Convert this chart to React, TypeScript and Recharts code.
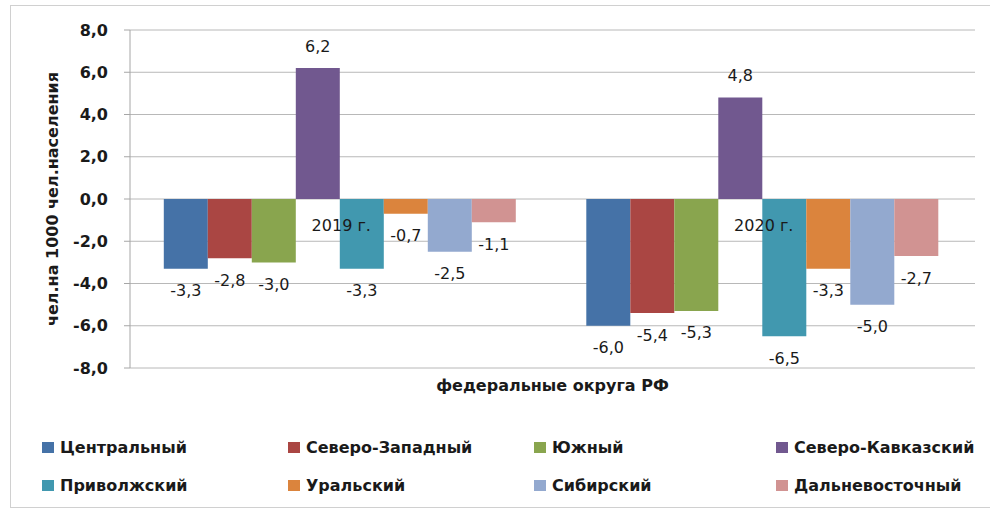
import {
  BarChart,
  Bar,
  XAxis,
  YAxis,
  CartesianGrid,
  Legend,
  LabelList,
  ReferenceDot,
  Label,
} from 'recharts';

const years = ['2019 г.', '2020 г.'];
const districts = [
  'Центральный',
  'Северо-Западный',
  'Южный',
  'Северо-Кавказский',
  'Приволжский',
  'Уральский',
  'Сибирский',
  'Дальневосточный',
];
const colors = ['#4572A7', '#AA4643', '#89A54E', '#71588F', '#4198AF', '#DB843D', '#93A9CF', '#D19392'];
const values2019 = [-3.3, -2.8, -3.0, 6.2, -3.3, -0.7, -2.5, -1.1];
const values2020 = [-6.0, -5.4, -5.3, 4.8, -6.5, -3.3, -5.0, -2.7];
const yTicks = [-8, -6, -4, -2, 0, 2, 4, 6, 8];

const rows = [values2019, values2020].map((vals, i) => {
  const row: Record<string, string | number> = { year: years[i] };
  vals.forEach((v, j) => {
    row['d' + j] = v;
  });
  return row;
});

const FONT = '"DejaVu Sans", sans-serif';
const TEXT = '#1a1a1a';
const fmt = (v: number) => v.toFixed(1).replace('.', ',');

function ValueLabel(props: any) {
  const { x, y, width, height, value } = props;
  const top = Math.min(y, y + height);
  const bottom = Math.max(y, y + height);
  const cy = value >= 0 ? top - 22 : bottom + 22;
  return (
    <text
      x={x + width / 2}
      y={cy}
      textAnchor="middle"
      dominantBaseline="central"
      fontFamily={FONT}
      fontSize={16}
      fill={TEXT}
    >
      {fmt(Number(value))}
    </text>
  );
}

function YTitle(props: any) {
  const { viewBox } = props;
  const cx = viewBox.x + 52;
  const cy = viewBox.y + viewBox.height / 2;
  return (
    <text
      x={cx}
      y={cy}
      transform={`rotate(-90, ${cx}, ${cy})`}
      textAnchor="middle"
      dominantBaseline="central"
      fontFamily={FONT}
      fontSize={16}
      fontWeight="bold"
      fill={TEXT}
    >
      чел.на 1000 чел.населения
    </text>
  );
}

const legendCols = [42, 288, 534, 776];

// legend keeps the series order (recharts sorts its payload by name)
function LegendBox() {
  return (
    <div style={{ position: 'relative', width: 990, height: 70 }}>
      {districts.map((d, i) => (
        <div
          key={d}
          style={{
            position: 'absolute',
            left: legendCols[i % 4],
            top: Math.floor(i / 4) * 38,
            height: 20,
            display: 'flex',
            alignItems: 'center',
            fontFamily: FONT,
            fontSize: 16,
            fontWeight: 'bold',
            color: TEXT,
            whiteSpace: 'nowrap',
          }}
        >
          <span style={{ display: 'inline-block', width: 12, height: 11, background: colors[i], marginRight: 6 }} />
          {d}
        </div>
      ))}
    </div>
  );
}

export default function App() {
  return (
    <div style={{ position: 'absolute', left: 0, top: 0, width: 990, height: 513, background: '#fff', overflow: 'hidden' }}>
      <div
        style={{
          position: 'absolute',
          left: 10,
          top: 5,
          width: 990,
          height: 503,
          border: '1px solid #d0d0d0',
          boxSizing: 'border-box',
        }}
      />
      <BarChart
        width={990}
        height={513}
        data={rows}
        margin={{ top: 30, right: 15, bottom: 105, left: 0 }}
        barCategoryGap="8%"
        barGap={0}
      >
        <CartesianGrid vertical={false} stroke="#b8b8b8" />
        <XAxis dataKey="year" tick={false} tickLine={false} axisLine={false} height={40}>
          <Label
            value="федеральные округа РФ"
            position="insideTop"
            offset={12}
            fontFamily={FONT}
            fontSize={16}
            fontWeight="bold"
            fill={TEXT}
          />
        </XAxis>
        <YAxis
          width={130}
          domain={[-8, 8]}
          ticks={yTicks}
          interval={0}
          tickFormatter={fmt}
          stroke="#a6a6a6"
          tickSize={6}
          tickMargin={16}
          tick={{ fontFamily: FONT, fontSize: 16, fontWeight: 'bold', fill: TEXT }}
        >
          <Label content={<YTitle />} />
        </YAxis>
        {districts.map((d, j) => (
          <Bar key={d} dataKey={'d' + j} name={d} fill={colors[j]} isAnimationActive={false}>
            <LabelList dataKey={'d' + j} content={<ValueLabel />} />
          </Bar>
        ))}
        {years.map((yr) => (
          <ReferenceDot key={yr} x={yr} y={0} r={0} fill="none" stroke="none" ifOverflow="visible">
            <Label
              value={yr}
              position="bottom"
              offset={21}
              fontFamily={FONT}
              fontSize={16}
              fill={TEXT}
            />
          </ReferenceDot>
        ))}
        <Legend
          layout="horizontal"
          verticalAlign="middle"
          align="center"
          content={<LegendBox />}
          wrapperStyle={{ top: 437, left: 0, width: 990 }}
        />
      </BarChart>
    </div>
  );
}
